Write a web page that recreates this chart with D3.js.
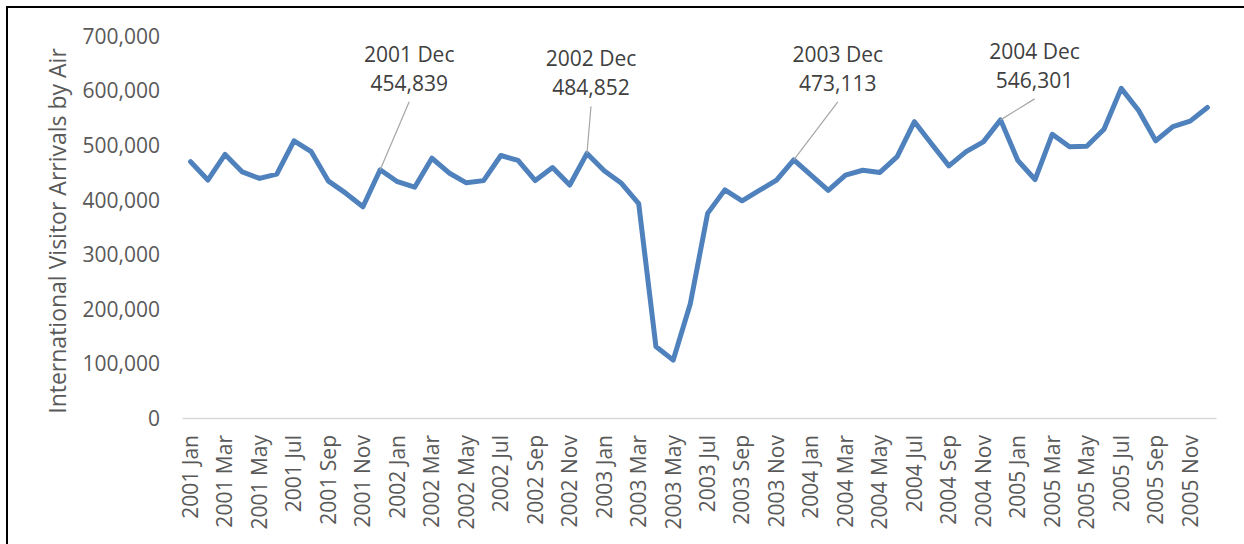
<!DOCTYPE html>
<html lang="en">
<head>
  <meta charset="UTF-8">
  <title>International Visitor Arrivals by Air</title>
  <script src="https://d3js.org/d3.v7.min.js"></script>
  <style>
    body {
      margin: 0;
      background: #fff;
    }
    svg {
      display: block;
    }
    svg text {
      font-family: "Open Sans", sans-serif;
    }
    .tick text {
      fill: #595959;
      font-size: 21px;
    }
    .note text {
      fill: #404040;
      font-size: 21px;
    }
  </style>
</head>
<body>
  <svg></svg>
  <script>
    const years = ["2001", "2002", "2003", "2004", "2005"];
    const monthNames = ["Jan", "Feb", "Mar", "Apr", "May", "Jun", "Jul", "Aug", "Sep", "Oct", "Nov", "Dec"];
    const months = years.flatMap(y => monthNames.map(m => `${y} ${m}`));

    const arrivals = [
      469700, 436000, 483000, 451000, 439000, 447000, 508000, 488000, 434000, 412000, 387000, 454839,
      433000, 423000, 476000, 449000, 431000, 435000, 481000, 472000, 435000, 459000, 427000, 484852,
      453000, 430000, 393000, 131000, 106000, 210000, 375000, 418000, 398000, 417000, 436000, 473113,
      445000, 417000, 445000, 454000, 450000, 479000, 543000, 502000, 462000, 488000, 506000, 546301,
      472000, 437000, 520000, 497000, 498000, 529000, 604000, 564000, 508000, 534000, 544000, 569000
    ];

    const yTicks = [0, 100000, 200000, 300000, 400000, 500000, 600000, 700000];
    const yTitle = "International Visitor Arrivals by Air";

    // the labelled points (December of 2001..2004)
    const noted = ["2001 Dec", "2002 Dec", "2003 Dec", "2004 Dec"];
    // where each callout sits, relative to its point
    const noteOffset = [[29, -68], [4, -47], [44, -58], [34, -21]];

    const width = 1244, height = 544;
    const margin = { top: 36, right: 28, bottom: 126, left: 182 };

    const svg = d3.select("svg")
      .attr("width", width)
      .attr("height", height);

    // frame (only top and left edges show in the crop)
    svg.append("rect")
      .attr("x", 7).attr("y", 7)
      .attr("width", width + 10).attr("height", height + 10)
      .attr("fill", "none")
      .attr("stroke", "#000")
      .attr("stroke-width", 2);

    const x = d3.scaleBand()
      .domain(months)
      .range([margin.left, width - margin.right]);

    const y = d3.scaleLinear()
      .domain([0, 700000])
      .range([height - margin.bottom, margin.top]);

    const cx = m => x(m) + x.bandwidth() / 2;

    // y axis, labels only
    const yAxis = svg.append("g")
      .attr("transform", `translate(${margin.left - 22},0)`)
      .call(d3.axisLeft(y).tickValues(yTicks).tickSize(0).tickPadding(0)
        .tickFormat(d3.format(",")));
    yAxis.attr("font-family", null);
    yAxis.select(".domain").remove();
    yAxis.selectAll(".tick text").attr("dy", "0.35em");

    svg.append("text")
      .attr("transform", `translate(58,${(margin.top + height - margin.bottom) / 2 + 4}) rotate(-90)`)
      .attr("text-anchor", "middle")
      .attr("dy", "0.35em")
      .attr("fill", "#595959")
      .style("font-size", "23px")
      .text(yTitle);

    // x axis
    const xAxis = svg.append("g")
      .attr("transform", `translate(0,${height - margin.bottom})`)
      .call(d3.axisBottom(x)
        .tickValues(months.filter((d, i) => i % 2 === 0))
        .tickSize(0).tickPadding(0));
    xAxis.attr("font-family", null);
    xAxis.select(".domain")
      .attr("stroke", "#d9d9d9")
      .attr("stroke-width", 1.5);
    xAxis.selectAll(".tick text")
      .attr("transform", "rotate(-90)")
      .attr("text-anchor", "end")
      .attr("x", -17)
      .attr("y", 0)
      .attr("dy", "0.35em");

    // the series
    const line = d3.line()
      .x((d, i) => cx(months[i]))
      .y(d => y(d));

    svg.append("path")
      .datum(arrivals)
      .attr("d", line)
      .attr("fill", "none")
      .attr("stroke", "#4f81bd")
      .attr("stroke-width", 5)
      .attr("stroke-linejoin", "round")
      .attr("stroke-linecap", "round");

    // callouts
    const notes = svg.append("g").attr("class", "note")
      .selectAll("g")
      .data(noted)
      .join("g");

    notes.each(function (m, i) {
      const g = d3.select(this);
      const px = cx(m), py = y(arrivals[months.indexOf(m)]);
      const lx = px + noteOffset[i][0], ly = py + noteOffset[i][1];
      g.append("line")
        .attr("x1", px).attr("y1", py)
        .attr("x2", lx).attr("y2", ly)
        .attr("stroke", "#a6a6a6")
        .attr("stroke-width", 1.2);
      g.append("text")
        .attr("x", lx).attr("y", ly - 40)
        .attr("text-anchor", "middle")
        .text(m);
      g.append("text")
        .attr("x", lx).attr("y", ly - 11)
        .attr("text-anchor", "middle")
        .text(d3.format(",")(arrivals[months.indexOf(m)]));
    });
  </script>
</body>
</html>
